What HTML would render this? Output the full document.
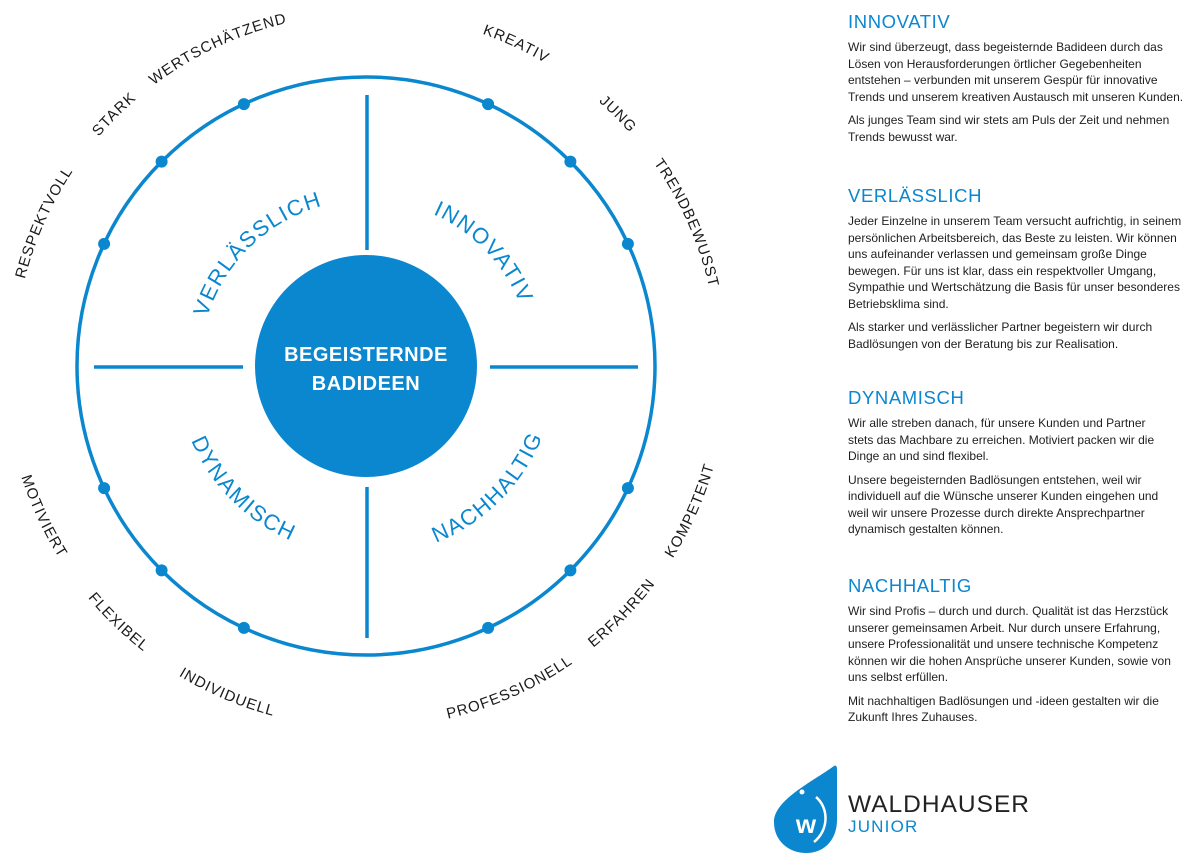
<!DOCTYPE html>
<html><head><meta charset="utf-8"><style>
body{margin:0;width:1200px;height:866px;background:#fff;overflow:hidden;position:relative;font-family:"Liberation Sans",sans-serif}
svg{position:absolute;left:0;top:0}
.p{position:absolute;left:848px;width:350px;color:#1e1e1e;font-size:12px;line-height:16.5px}
.p h2{margin:0 0 6px 0;font-weight:normal;color:#0a87cf;font-size:18.5px;letter-spacing:0.6px;line-height:22px}
.p p{margin:0 0 7px 0;white-space:nowrap}
.o{font-size:15px;fill:#1a1a1a;letter-spacing:1px}
.i{font-size:22px;fill:#0a87cf;letter-spacing:1.5px}
</style></head><body>
<svg width="1200" height="866" viewBox="0 0 1200 866">
<defs id="d"></defs>
<circle cx="366" cy="366" r="289" fill="none" stroke="#0a87cf" stroke-width="3.5"/>
<g stroke="#0a87cf" stroke-width="3.5">
<line x1="367" y1="95" x2="367" y2="250"/>
<line x1="367" y1="487" x2="367" y2="638"/>
<line x1="94" y1="367" x2="243" y2="367"/>
<line x1="490" y1="367" x2="638" y2="367"/>
</g>
<g fill="#0a87cf" id="dots"></g>
<circle cx="366" cy="366" r="111" fill="#0a87cf"/>
<text x="366" y="361" text-anchor="middle" fill="#fff" font-size="20" font-weight="bold" letter-spacing="0.5">BEGEISTERNDE</text>
<text x="366" y="390" text-anchor="middle" fill="#fff" font-size="20" font-weight="bold" letter-spacing="0.5">BADIDEEN</text>
<g class="o" text-anchor="middle">
<text><textPath href="#a1" startOffset="50%">WERTSCHÄTZEND</textPath></text>
<text><textPath href="#a2" startOffset="50%">STARK</textPath></text>
<text><textPath href="#a3" startOffset="50%">RESPEKTVOLL</textPath></text>
<text><textPath href="#a4" startOffset="50%">KREATIV</textPath></text>
<text><textPath href="#a5" startOffset="50%">JUNG</textPath></text>
<text><textPath href="#a6" startOffset="50%">TRENDBEWUSST</textPath></text>
<text><textPath href="#a7" startOffset="50%">MOTIVIERT</textPath></text>
<text><textPath href="#a8" startOffset="50%">FLEXIBEL</textPath></text>
<text><textPath href="#a9" startOffset="50%">INDIVIDUELL</textPath></text>
<text><textPath href="#a10" startOffset="50%">PROFESSIONELL</textPath></text>
<text><textPath href="#a11" startOffset="50%">ERFAHREN</textPath></text>
<text><textPath href="#a12" startOffset="50%">KOMPETENT</textPath></text>
</g>
<g class="i" text-anchor="middle">
<text><textPath href="#b1" startOffset="50%">VERLÄSSLICH</textPath></text>
<text><textPath href="#b2" startOffset="50%">INNOVATIV</textPath></text>
<text><textPath href="#b3" startOffset="50%">DYNAMISCH</textPath></text>
<text><textPath href="#b4" startOffset="50%">NACHHALTIG</textPath></text>
</g>
<path d="M834 766 C812 782 774 800 774 822 C774 842 790 853 806 853 C826 853 837 838 837 820 L837 770 C837 766 836 765 834 766Z" fill="#0a87cf"/>
<text x="806" y="833" text-anchor="middle" fill="#fff" font-size="26" font-weight="bold">w</text>
<circle cx="802" cy="792" r="2.5" fill="#fff"/>
<path d="M816 797 C829 808 829 830 814 842" fill="none" stroke="#fff" stroke-width="2.5"/>
<text x="848" y="812" font-size="24.5" fill="#222" letter-spacing="1">WALDHAUSER</text>
<text x="848" y="832" font-size="17" fill="#0a87cf" letter-spacing="1.2">JUNIOR</text>
</svg>
<div class="p" style="top:11px"><h2>INNOVATIV</h2>
<p>Wir sind überzeugt, dass begeisternde Badideen durch das<br>Lösen von Herausforderungen örtlicher Gegebenheiten<br>entstehen – verbunden mit unserem Gespür für innovative<br>Trends und unserem kreativen Austausch mit unseren Kunden.</p>
<p>Als junges Team sind wir stets am Puls der Zeit und nehmen<br>Trends bewusst war.</p></div>
<div class="p" style="top:185px"><h2>VERLÄSSLICH</h2>
<p>Jeder Einzelne in unserem Team versucht aufrichtig, in seinem<br>persönlichen Arbeitsbereich, das Beste zu leisten. Wir können<br>uns aufeinander verlassen und gemeinsam große Dinge<br>bewegen. Für uns ist klar, dass ein respektvoller Umgang,<br>Sympathie und Wertschätzung die Basis für unser besonderes<br>Betriebsklima sind.</p>
<p>Als starker und verlässlicher Partner begeistern wir durch<br>Badlösungen von der Beratung bis zur Realisation.</p></div>
<div class="p" style="top:387px"><h2>DYNAMISCH</h2>
<p>Wir alle streben danach, für unsere Kunden und Partner<br>stets das Machbare zu erreichen. Motiviert packen wir die<br>Dinge an und sind flexibel.</p>
<p>Unsere begeisternden Badlösungen entstehen, weil wir<br>individuell auf die Wünsche unserer Kunden eingehen und<br>weil wir unsere Prozesse durch direkte Ansprechpartner<br>dynamisch gestalten können.</p></div>
<div class="p" style="top:575px"><h2>NACHHALTIG</h2>
<p>Wir sind Profis – durch und durch. Qualität ist das Herzstück<br>unserer gemeinsamen Arbeit. Nur durch unsere Erfahrung,<br>unsere Professionalität und unsere technische Kompetenz<br>können wir die hohen Ansprüche unserer Kunden, sowie von<br>uns selbst erfüllen.</p>
<p>Mit nachhaltigen Badlösungen und -ideen gestalten wir die<br>Zukunft Ihres Zuhauses.</p></div>
<script>
var cx=366,cy=366,NS="http://www.w3.org/2000/svg",d=document.getElementById('d');
function pt(r,a){a=a*Math.PI/180;return [(cx+r*Math.sin(a)).toFixed(1),(cy-r*Math.cos(a)).toFixed(1)];}
function arc(id,r,a,top){var s=40,p1,p2,sw;if(top){p1=pt(r,a-s);p2=pt(r,a+s);sw=1;}else{p1=pt(r,a+s);p2=pt(r,a-s);sw=0;}
var e=document.createElementNS(NS,'path');e.setAttribute('id',id);e.setAttribute('fill','none');
e.setAttribute('d','M'+p1[0]+' '+p1[1]+' A'+r+' '+r+' 0 0 '+sw+' '+p2[0]+' '+p2[1]);d.appendChild(e);}
var o=[[-25,1],[-45,1],[-66,1],[25,1],[45,1],[66,1],[245,0],[224,0],[203,0],[156,0],[134,0],[114,0]];
o.forEach(function(v,i){arc('a'+(i+1),v[1]?352:362,v[0],v[1]);});
arc('b1',166,-44,1);arc('b2',166,46,1);arc('b3',190,225,0);arc('b4',190,135,0);
var g=document.getElementById('dots');
[25,45,65,-25,-45,-65,115,135,155,-115,-135,-155].forEach(function(a){var p=pt(289,a);var c=document.createElementNS(NS,'circle');c.setAttribute('cx',p[0]);c.setAttribute('cy',p[1]);c.setAttribute('r',6);g.appendChild(c);});
</script>
</body></html>
